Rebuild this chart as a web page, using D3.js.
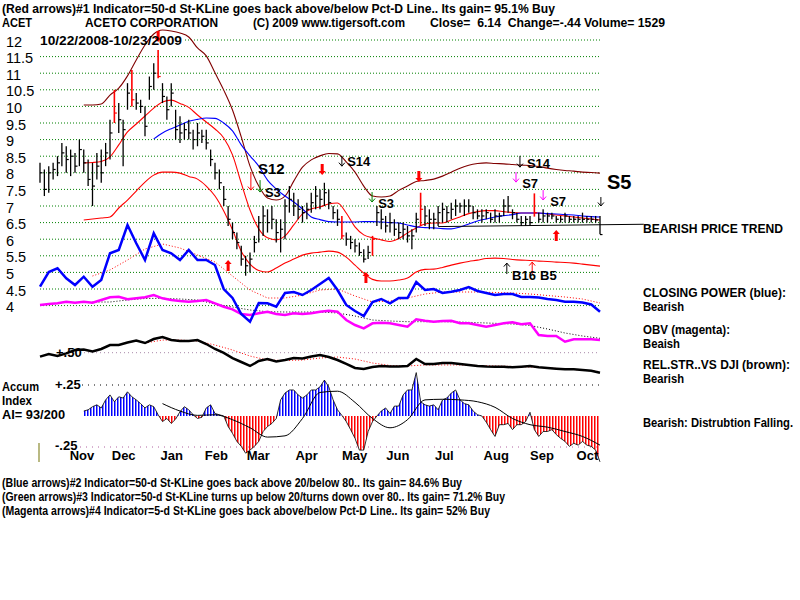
<!DOCTYPE html>
<html><head><meta charset="utf-8">
<script src="https://cdn.jsdelivr.net/npm/d3@7"></script>
<style>
body{margin:0;background:#fff}
svg{display:block}
text{font-family:"Liberation Sans",Arial,sans-serif;white-space:pre}
</style>
</head><body>
<svg id="c" width="800" height="600"></svg>
<script>
// ---------------- DATA ----------------
const priceTicks = [12,11.5,11,10.5,10,9.5,9,8.5,8,7.5,7,6.5,6,5.5,5,4.5,4];
const priceTickLabels = ["12","11.5","11","10.5","10","9.5","9","8.5","8","7.5","7","6.5","6","5.5","5","4.5","4"];
const monthNames = ["Nov","Dec","Jan","Feb","Mar","Apr","May","Jun","Jul","Aug","Sep","Oct"];
const monthStartDay = [8,27,49,69,88,110,131,151,173,195,216,237]; // trading-day index of month start
const tradingDays = 253;

// price bars (one bar per two trading days)
const barHigh = [8.3,8.1,8.2,8.3,8.5,8.9,8.8,8.7,8.6,9.0,
8.7,8.4,8.3,8.6,8.7,8.9,9.6,10.5,10.1,9.6,
10.7,11.1,10.4,10.2,10.0,10.9,11.3,11.7,10.7,10.3,
10.7,9.9,9.7,9.5,9.6,9.3,9.5,9.3,9.3,8.7,
8.3,8.1,7.6,7.0,6.5,6.2,5.8,5.5,5.6,6.1,
6.7,7.0,6.9,7.0,6.6,6.6,7.2,7.6,7.4,7.2,
7.0,7.1,7.4,7.6,7.5,7.7,7.5,7.0,6.9,6.7,
6.2,6.1,6.0,5.9,5.7,5.8,6.1,7.0,6.9,6.7,
6.8,6.6,6.5,6.5,6.4,6.3,6.8,7.4,7.0,6.9,
6.8,7.0,7.1,7.0,7.1,7.2,7.1,7.2,7.2,7.0,
6.9,6.9,6.9,6.8,6.9,6.8,7.2,7.3,6.9,6.8,
6.7,6.7,6.7,7.38,6.8,6.9,6.8,6.8,6.7,6.7,
6.8,6.7,6.7,6.7,6.8,6.7,6.7,6.7,6.7];
const barLow = [7.7,7.3,7.4,7.8,7.9,8.2,8.0,7.9,8.0,8.2,
8.0,7.6,7.0,7.8,7.7,8.2,8.4,9.5,9.2,8.2,
9.9,10.0,9.9,9.8,9.1,10.2,10.5,10.85,10.1,9.6,
10.0,9.0,8.9,9.0,9.0,8.7,8.8,8.9,8.7,8.2,
7.8,7.5,7.0,6.4,6.0,5.7,5.2,4.9,5.0,5.6,
5.9,6.1,6.2,6.3,5.9,5.6,6.0,6.8,6.7,6.6,
6.5,6.6,6.8,6.9,6.9,7.0,6.9,6.6,6.4,6.0,
5.8,5.7,5.6,5.5,5.3,5.4,5.5,6.4,6.3,6.2,
6.2,6.1,6.0,6.0,5.9,5.7,6.2,6.4,6.4,6.3,
6.3,6.4,6.5,6.5,6.6,6.7,6.8,6.7,6.8,6.6,
6.6,6.5,6.6,6.5,6.5,6.5,6.7,6.8,6.6,6.5,
6.4,6.4,6.4,6.68,6.5,6.5,6.5,6.6,6.5,6.5,
6.5,6.5,6.5,6.5,6.5,6.5,6.5,6.5,6.15];
const barClose = [8.0,7.5,8.0,8.1,8.3,8.6,8.4,8.5,8.2,8.7,
8.3,7.8,7.6,8.2,8.0,8.6,9.2,9.8,9.6,9.3,
10.4,10.2,10.1,10.0,9.4,10.6,11.0,10.9,10.3,9.9,
10.4,9.3,9.2,9.3,9.2,9.0,9.2,9.1,8.9,8.4,
8.0,7.7,7.2,6.6,6.2,5.9,5.4,5.2,5.4,5.9,
6.5,6.7,6.5,6.6,6.2,6.3,7.0,7.2,7.0,6.9,
6.8,6.9,7.1,7.3,7.2,7.4,7.1,6.8,6.6,6.1,
6.0,5.9,5.8,5.6,5.4,5.6,6.0,6.8,6.6,6.4,
6.5,6.3,6.2,6.3,6.1,6.1,6.6,6.9,6.7,6.6,
6.6,6.8,6.9,6.8,6.9,7.0,7.0,7.0,7.0,6.8,
6.7,6.7,6.8,6.6,6.7,6.7,7.0,7.0,6.8,6.6,
6.5,6.6,6.5,6.8,6.6,6.7,6.7,6.7,6.6,6.6,
6.7,6.6,6.6,6.6,6.6,6.6,6.6,6.58,6.14];
const redBars = [17,21,27,69,76,87,113];

// overlays on price (start bar index, every 2 bars)
const upperBand = [10.04,10.04,10.07,10.34,10.55,10.92,11.40,11.85,12.18,12.30,
12.27,12.21,12.09,11.76,11.52,11.01,10.49,9.89,9.08,8.20,
7.60,7.24,7.18,7.30,7.75,8.17,8.39,8.51,8.58,8.57,
8.33,8.02,7.60,7.30,7.27,7.30,7.47,7.60,7.74,7.77,
7.81,7.90,8.02,8.14,8.23,8.28,8.30,8.28,8.27,8.25,
8.23,8.22,8.19,8.14,8.10,8.07,8.05,8.02,8.01,7.99];
const midAvg = [8.30,8.31,8.34,8.48,8.84,9.23,9.47,9.71,9.95,10.13,
10.19,10.09,9.97,9.74,9.53,9.32,9.05,8.54,7.69,6.88,
6.31,6.04,5.98,6.10,6.43,6.76,6.91,6.97,7.06,7.09,
6.79,6.37,6.13,6.04,5.98,5.93,6.02,6.19,6.34,6.46,
6.49,6.49,6.58,6.67,6.77,6.83,6.86,6.86,6.83,6.80,
6.79,6.79,6.79,6.76,6.73,6.70,6.67,6.64,6.61,6.58];
const lowerBand = [6.58,6.61,6.64,6.67,6.94,7.18,7.45,7.72,7.93,8.02,
8.02,7.99,7.89,7.81,7.60,7.30,6.85,6.28,5.64,5.25,
5.06,5.01,5.13,5.28,5.40,5.52,5.58,5.61,5.64,5.61,
5.46,5.22,4.98,4.79,4.74,4.74,4.77,4.83,5.01,5.09,
5.10,5.15,5.22,5.28,5.33,5.37,5.42,5.43,5.42,5.39,
5.37,5.36,5.34,5.33,5.31,5.30,5.28,5.25,5.22,5.19];
const blueAvg = [9.02,9.20,9.33,9.44,9.55,9.61,9.65,9.64,9.50,9.26,
8.84,8.51,8.20,7.78,7.51,7.30,7.12,6.91,6.67,6.59,
6.53,6.52,6.52,6.52,6.53,6.53,6.52,6.50,6.49,6.43,
6.37,6.35,6.34,6.32,6.31,6.37,6.46,6.55,6.61,6.67,
6.71,6.74,6.79,6.79,6.79,6.77,6.76,6.74,6.73,6.70,
6.68,6.67];
const bandStart = 10, blueStart = 26;

// Closing power (every 2 bars from 0) and its average (every 4 bars from 12)
const closingPower = [43.3,58,61.7,51.7,45,53.3,43.3,50,76.7,80,
105,86.7,70,96.7,80,76.7,70,80,70,70,
65,41,32,16,8.3,27,26.7,23.3,37,38,
35,40,46,52,40,25,19,14,28,31,
26.7,32,32,48,40,41,37,38.3,40,43,
39,37,35,36,36,33,33,32.5,31,30,
28.3,28.3,27.5,25.5,18.3];
const closingPowerAvg = [54,60,70,81,86,82,75,68,54,40,32,32,35,40,41,34,28,29,32,36,38,38,38,37.5,37,36,34.5,33,31,27];

// OBV (every 2 bars from 0) and average (every 4 bars from 12)
const obv = [80,82,83.4,86.6,84.6,86.6,84.6,90,95.4,96.6,
91.4,93.4,95.4,100,93.4,90,88,86.6,88,90,
83.4,76.6,71.4,62,60,63.4,66.6,62,60,63.4,
62,63.4,66.6,68.6,66.6,50,40,33.4,43.4,44.6,
43.4,40,36.6,51.4,48.6,46.6,48,48.6,43.4,43.4,
40,36.6,40,43.4,45.4,41.4,43.4,20,18,18,
6.6,11.4,11.4,11.4,10];
const obvAvg = [86,86,90,93,93.4,92,90,82,76,70,66.6,66,66,66,64,58,50,48,46.6,46.6,46.6,46,44.6,43.4,42,39,32,24,18,13.4];

// Relative strength vs DJI (every 2 bars from 0) and average (every 4 bars from 24)
const relStr = [0.468,0.49,0.473,0.495,0.522,0.526,0.51,0.53,0.562,0.562,
0.582,0.598,0.578,0.61,0.627,0.602,0.594,0.594,0.602,0.57,
0.53,0.498,0.457,0.425,0.393,0.433,0.449,0.429,0.441,0.457,
0.453,0.469,0.481,0.465,0.441,0.409,0.377,0.369,0.385,0.393,
0.389,0.389,0.393,0.449,0.409,0.409,0.417,0.417,0.409,0.401,
0.393,0.389,0.387,0.387,0.382,0.387,0.393,0.382,0.377,0.371,
0.366,0.366,0.36,0.355,0.339];
const relStrAvg = [0.578,0.602,0.602,0.594,0.562,0.522,0.473,0.441,0.437,0.441,0.457,0.465,0.449,0.417,0.397,0.393,0.401,0.401,0.401,0.397,0.393,0.389,0.385,0.377,0.369,0.36,0.347];

// Accumulation index (every bar from 10) and its average (every 4 bars from 28)
const accum = [0.04,0.05,0.075,0.09,0.065,0.13,0.17,0.115,0.155,0.145,
0.195,0.155,0.13,0.10,0.065,0.09,0.075,0.01,-0.045,-0.02,
-0.06,-0.025,0.035,0.075,0.05,0.01,-0.02,-0.01,0.065,0.09,
0.02,0.01,0,-0.085,-0.14,-0.205,-0.245,-0.30,-0.275,-0.245,
-0.205,-0.125,-0.085,-0.06,-0.02,0.13,0.185,0.21,0.21,0.17,
0.145,0.17,0.21,0.21,0.235,0.29,0.235,0.13,0.05,0.005,
-0.045,-0.11,-0.18,-0.275,-0.275,-0.125,-0.045,0,0.04,0.065,
0.02,0.08,0.08,0.17,0.21,0.21,0.35,0.115,0.09,0.08,
0.09,0.05,0.13,0.145,0.185,0.21,0.13,0.10,0.09,0.04,
0.01,0,-0.05,-0.11,-0.165,-0.07,-0.07,-0.06,-0.11,-0.07,
-0.07,-0.045,0.03,-0.11,-0.165,-0.125,-0.125,-0.11,-0.15,-0.18,
-0.205,-0.245,-0.22,-0.235,-0.205,-0.235,-0.245,-0.275,-0.37];
const accumAvg = [0.10,0.04,0.005,0.01,-0.03,-0.095,-0.17,-0.16,-0.02,0.19,0.2,0.11,-0.02,-0.095,-0.03,0.13,0.135,0.13,0.115,0.07,-0.02,-0.07,-0.09,-0.125,-0.165,-0.235];

// signal annotations (bar index, price level)
const bigArrows = [
  {b:27, tip:11.94, dir:"down"}, {b:64.5, tip:7.93, dir:"down"}, {b:86.6, tip:7.72, dir:"down"},
  {b:43, tip:5.37, dir:"up"}, {b:74.5, tip:5.01, dir:"up"}, {b:118, tip:6.28, dir:"up"}];
const thinArrows = [
  {b:48.2, from:8.02, to:7.48, color:"#ff0000"},
  {b:50.3, from:7.78, to:7.42, color:"#008000"},
  {b:69, from:8.51, to:8.20, color:"#000000"},
  {b:75.9, from:7.42, to:7.12, color:"#008000"},
  {b:109.7, from:8.51, to:8.17, color:"#000000"},
  {b:108.8, from:8.02, to:7.72, color:"#ff00ff"},
  {b:115, from:7.48, to:7.18, color:"#ff00ff"},
  {b:128.2, from:7.27, to:7.0, color:"#000000"},
  {b:106.7, from:4.95, to:5.28, color:"#000000"},
  {b:112.5, from:4.95, to:5.31, color:"#ff0000"}];
const signalLabels = [
  {t:"S12", b:49.8, p:8.14, size:15},
  {t:"S3", b:51.4, p:7.42, size:13},
  {t:"S14", b:70.2, p:8.33, size:13},
  {t:"S3", b:77.3, p:7.09, size:13},
  {t:"S14", b:111.3, p:8.27, size:13},
  {t:"S7", b:110.2, p:7.69, size:13},
  {t:"S7", b:116.6, p:7.15, size:13},
  {t:"B16", b:107.9, p:4.92, size:13},
  {t:"B5", b:114.3, p:4.92, size:13},
  {t:"S5", b:129.6, p:7.72, size:20}];
const trendLine = [{b:91, v:6.38},{b:138, v:6.45}];

// texts
const headerLine1 = "(Red arrows)#1 Indicator=50-d St-KLine goes back above/below Pct-D Line.. Its gain= 95.1% Buy";
const headerLine2 = ["ACET","ACETO CORPORATION","(C) 2009 www.tigersoft.com","Close=  6.14  Change=-.44 Volume= 1529"];
const dateRange = "10/22/2008-10/23/2009";
const footerLines = [
 "(Blue arrows)#2 Indicator=50-d St-KLine goes back above 20/below 80.. Its gain= 84.6% Buy",
 "(Green arrows)#3 Indicator=50-d St-KLine turns up below 20/turns down over 80.. Its gain= 71.2% Buy",
 "(Magenta arrows)#4 Indicator=5-d St-KLine goes back above/below Pct-D Line.. Its gain= 52% Buy"];
const sideLabels = ["BEARISH PRICE TREND","CLOSING POWER (blue):","Bearish","OBV (magenta):","Beaish","REL.STR..VS DJI (brown):","Bearish","Bearish: Distrubtion Falling."];
const accumLabels = ["Accum","Index","AI= 93/200"];

// ---------------- DRAW ----------------
const svg = d3.select("#c");
svg.append("rect").attr("width",800).attr("height",600).attr("fill","#fff");

const x = d3.scaleLinear().domain([0,128]).range([40,600]);
const yP = d3.scaleLinear().domain([4,12]).range([305.6,40]);
const yCP = d3.scaleLinear().domain([0,110]).range([330,220]);
const yOBV = d3.scaleLinear().domain([0,100]).range([345,295]);
const yRS = d3.scaleLinear().domain([0.25,0.75]).range([383.7,321.7]);
const yAI = d3.scaleLinear().domain([-0.25,0.25]).range([447,385]);
const dayToBar = d => d*128/tradingDays;

const ser = (start, step, vals) => vals.map((v,i)=>({b:start+i*step, v}));
const mkLine = ys => d3.line().x(d=>x(d.b)).y(d=>ys(d.v));

function txt(s, tx, ty, o={}){
  const t = svg.append("text").attr("x",tx).attr("y",ty).attr("dominant-baseline","central")
    .attr("font-size",o.size||12.5).attr("font-weight",o.weight||"bold").attr("fill",o.fill||"#000").text(s);
  if(o.len){ t.attr("textLength",o.len).attr("lengthAdjust","spacingAndGlyphs"); }
  return t;
}

// price gridlines
priceTicks.forEach((p,i)=>{
  svg.append("line").attr("x1", p===12?185:40).attr("x2",600).attr("y1",yP(p)).attr("y2",yP(p))
    .attr("stroke","#008000").attr("stroke-dasharray","1,2");
  txt(priceTickLabels[i], 6, yP(p)+1.5, {size:14.5, weight:"normal"});
});
// lower panel reference lines
svg.append("line").attr("x1",80).attr("x2",600).attr("y1",yRS(0.5)).attr("y2",yRS(0.5)).attr("stroke","#a888a8").attr("stroke-dasharray","1,3");
svg.append("line").attr("x1",82).attr("x2",600).attr("y1",yAI(0.25)).attr("y2",yAI(0.25)).attr("stroke","#000").attr("stroke-dasharray","1,5");
svg.append("line").attr("x1",80).attr("x2",600).attr("y1",yAI(-0.25)).attr("y2",yAI(-0.25)).attr("stroke","#b060a0").attr("stroke-dasharray","1,5");
txt("+.50", 56, yRS(0.5), {size:13});
txt("+.25", 55, yAI(0.25)-1, {size:13});
txt("-.25", 55, yAI(-0.25)-2, {size:13});
svg.append("line").attr("x1",39).attr("x2",39).attr("y1",443).attr("y2",462).attr("stroke","#8a8a30").attr("stroke-width",1.2);

// accumulation histogram
const defs = svg.append("defs");
[["pb","#0000ff"],["pr","#ff0000"]].forEach(([id,c])=>{
  defs.append("pattern").attr("id",id).attr("patternUnits","userSpaceOnUse").attr("width",3).attr("height",20)
    .append("rect").attr("x",0).attr("y",0).attr("width",1.5).attr("height",20).attr("fill",c);
});
defs.append("clipPath").attr("id","above").append("rect").attr("x",0).attr("y",0).attr("width",800).attr("height",yAI(0));
defs.append("clipPath").attr("id","below").append("rect").attr("x",0).attr("y",yAI(0)).attr("width",800).attr("height",200);
const aiData = ser(10,1,accum);
const aiArea = d3.area().x(d=>x(d.b)).y0(yAI(0)).y1(d=>yAI(d.v));
svg.append("path").datum(aiData).attr("d",aiArea).attr("fill","url(#pb)").attr("clip-path","url(#above)");
svg.append("path").datum(aiData).attr("d",aiArea).attr("fill","url(#pr)").attr("clip-path","url(#below)");
svg.append("path").datum(aiData).attr("d",mkLine(yAI)).attr("fill","none").attr("stroke","#000").attr("stroke-width",0.8);
svg.append("path").datum(ser(28,4,accumAvg)).attr("d",mkLine(yAI).curve(d3.curveMonotoneX)).attr("fill","none").attr("stroke","#000").attr("stroke-width",1);

// relative strength
svg.append("path").datum(ser(24,4,relStrAvg)).attr("d",mkLine(yRS)).attr("fill","none").attr("stroke","#ff0000").attr("stroke-dasharray","1,2");
svg.append("path").datum(ser(0,2,relStr)).attr("d",mkLine(yRS)).attr("fill","none").attr("stroke","#000").attr("stroke-width",2.5);

// OBV
svg.append("path").datum(ser(12,4,obvAvg)).attr("d",mkLine(yOBV)).attr("fill","none").attr("stroke","#000").attr("stroke-dasharray","1,2");
svg.append("path").datum(ser(0,2,obv)).attr("d",mkLine(yOBV)).attr("fill","none").attr("stroke","#ff00ff").attr("stroke-width",2.5);

// closing power
svg.append("path").datum(ser(12,4,closingPowerAvg)).attr("d",mkLine(yCP)).attr("fill","none").attr("stroke","#ff0000").attr("stroke-dasharray","1,2");
svg.append("path").datum(ser(0,2,closingPower)).attr("d",mkLine(yCP)).attr("fill","none").attr("stroke","#0000ff").attr("stroke-width",2.5);

// price overlays
const smooth = ys => mkLine(ys).curve(d3.curveMonotoneX);
svg.append("path").datum(ser(bandStart,2,upperBand)).attr("d",smooth(yP)).attr("fill","none").attr("stroke","#800000").attr("stroke-width",1.1);
svg.append("path").datum(ser(bandStart,2,lowerBand)).attr("d",smooth(yP)).attr("fill","none").attr("stroke","#ff0000").attr("stroke-width",1.1);
svg.append("path").datum(ser(bandStart,2,midAvg)).attr("d",smooth(yP)).attr("fill","none").attr("stroke","#ff0000").attr("stroke-width",1.1);
svg.append("path").datum(ser(blueStart,2,blueAvg)).attr("d",smooth(yP)).attr("fill","none").attr("stroke","#0000ff").attr("stroke-width",1.1);
svg.append("path").datum(trendLine).attr("d",mkLine(yP)).attr("fill","none").attr("stroke","#000").attr("stroke-width",1);

// price bars
const bars = barHigh.map((h,i)=>({b:i,h,l:barLow[i],c:barClose[i],red:redBars.includes(i)}));
const gB = svg.append("g");
gB.selectAll("line.hl").data(bars).join("line").attr("class","hl")
  .attr("x1",d=>x(d.b)).attr("x2",d=>x(d.b)).attr("y1",d=>yP(d.h)).attr("y2",d=>yP(d.l))
  .attr("stroke",d=>d.red?"#ff0000":"#000").attr("stroke-width",d=>d.red?1.6:1.3);
gB.selectAll("line.cl").data(bars).join("line").attr("class","cl")
  .attr("x1",d=>x(d.b)).attr("x2",d=>x(d.b)+2.5).attr("y1",d=>yP(d.c)).attr("y2",d=>yP(d.c))
  .attr("stroke",d=>d.red?"#ff0000":"#000").attr("stroke-width",1.2);

// big red arrows
bigArrows.forEach(a=>{
  const cx = x(a.b), ty = yP(a.tip), s = a.dir==="down"?-1:1;
  svg.append("path").attr("fill","#ff0000").attr("d",
    `M${cx},${ty} L${cx-3.5},${ty+s*4} L${cx-1.5},${ty+s*4} L${cx-1.5},${ty+s*11} L${cx+1.5},${ty+s*11} L${cx+1.5},${ty+s*4} L${cx+3.5},${ty+s*4} Z`);
});
// thin arrows
thinArrows.forEach(a=>{
  const cx = x(a.b), y1 = yP(a.from), y2 = yP(a.to), s = y2>y1?1:-1;
  svg.append("path").attr("fill","none").attr("stroke",a.color).attr("stroke-width",1)
    .attr("d",`M${cx},${y1} L${cx},${y2} M${cx-3},${y2-s*3.5} L${cx},${y2} L${cx+3},${y2-s*3.5}`);
});
signalLabels.forEach(l=> txt(l.t, x(l.b), yP(l.p), {size:l.size}));

// month axis labels
monthNames.forEach((m,i)=> txt(m, x(dayToBar(monthStartDay[i]))+12, 455, {size:13}));

// header / footer text
txt(headerLine1, 2, 8.5, {len:553});
txt(headerLine2[0], 2, 22.7, {len:30});
txt(headerLine2[1], 85, 22.7, {len:133});
txt(headerLine2[2], 253, 22.7, {len:152});
txt(headerLine2[3], 430, 22.7, {len:235});
txt(dateRange, 40, 40.7, {len:142});
const footY = [482.5, 496.5, 510.5], footW = [460, 503, 488];
footerLines.forEach((s,i)=> txt(s, 2, footY[i], {len:footW[i], size:12}));
const sideY = [229, 293.3, 306.7, 330, 344, 365, 379, 422.7], sideW = [140, 143, 41, 87, 37, 147, 41, 150];
sideLabels.forEach((s,i)=> txt(s, 643, sideY[i], {len:sideW[i]}));
const accY = [386, 400, 414], accW = [37, 30, 63];
accumLabels.forEach((s,i)=> txt(s, 2, accY[i], {len:accW[i], size:13}));
</script>
</body></html>
